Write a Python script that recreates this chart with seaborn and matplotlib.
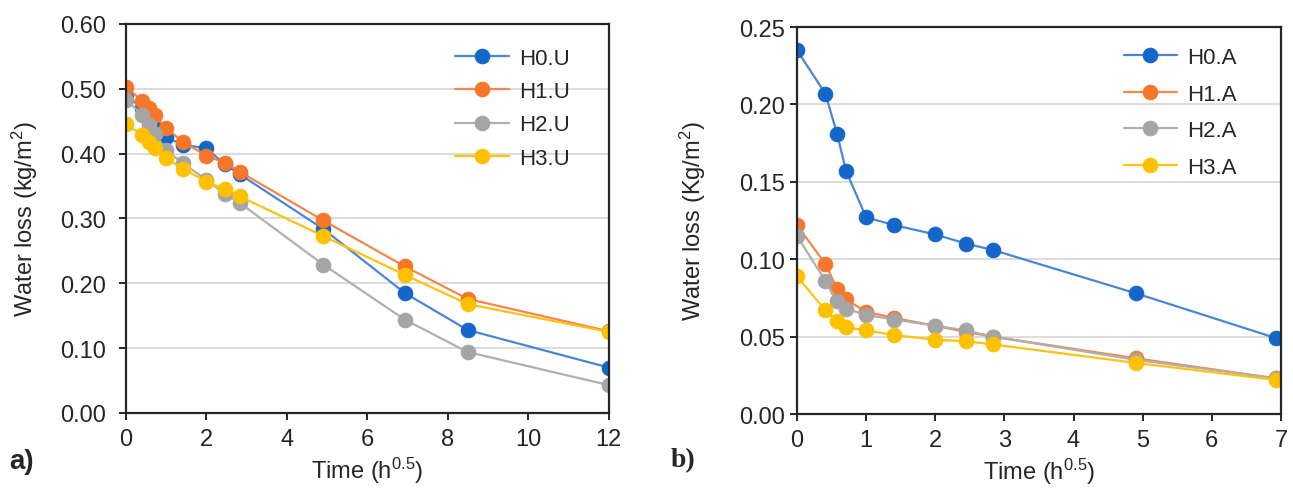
import numpy as np
import pandas as pd
import matplotlib
matplotlib.use("Agg")
import matplotlib.pyplot as plt
import seaborn as sns

sns.set_theme(style="white")
plt.rcParams["font.family"] = ["Liberation Sans", "DejaVu Sans"]
plt.rcParams["mathtext.fontset"] = "custom"
plt.rcParams["mathtext.rm"] = "Liberation Sans"
plt.rcParams["mathtext.it"] = "Liberation Sans"

# time axis, h^0.5
time_u = [0, 0.41, 0.58, 0.71, 1.0, 1.41, 2.0, 2.45, 2.83, 4.90, 6.93, 8.49, 12.0]
time_a = [0, 0.41, 0.58, 0.71, 1.0, 1.41, 2.0, 2.45, 2.83, 4.90, 6.93]

# panel a) water loss (kg/m2)
h0_u = [0.490, 0.470, 0.455, 0.440, 0.425, 0.414, 0.408, 0.384, 0.368, 0.284, 0.185, 0.128, 0.070]
h1_u = [0.503, 0.481, 0.470, 0.459, 0.440, 0.418, 0.397, 0.386, 0.372, 0.297, 0.226, 0.176, 0.126]
h2_u = [0.483, 0.460, 0.444, 0.431, 0.406, 0.385, 0.360, 0.338, 0.324, 0.229, 0.144, 0.094, 0.043]
h3_u = [0.445, 0.429, 0.418, 0.408, 0.393, 0.377, 0.357, 0.345, 0.334, 0.273, 0.213, 0.168, 0.125]

# panel b) water loss (Kg/m2)
h0_a = [0.235, 0.207, 0.181, 0.157, 0.127, 0.122, 0.116, 0.110, 0.106, 0.078, 0.049]
h1_a = [0.122, 0.097, 0.081, 0.074, 0.066, 0.062, 0.057, 0.053, 0.050, 0.036, 0.023]
h2_a = [0.115, 0.086, 0.073, 0.068, 0.064, 0.061, 0.057, 0.054, 0.050, 0.035, 0.023]
h3_a = [0.089, 0.067, 0.060, 0.056, 0.054, 0.051, 0.048, 0.047, 0.045, 0.033, 0.022]

labels_u = ["H0.U", "H1.U", "H2.U", "H3.U"]
labels_a = ["H0.A", "H1.A", "H2.A", "H3.A"]
line_cols = ["#4A86D8", "#F4874B", "#B0B0B0", "#FFC20E"]
mark_cols = ["#1466C8", "#F7772A", "#A5A5A5", "#FFC000"]

ink = "#262626"
fs = 17

fig = plt.figure(figsize=(12.93, 4.89), dpi=100)
ax_a = fig.add_axes([0.0974, 0.1534, 0.3735, 0.7955])
ax_b = fig.add_axes([0.6164, 0.1513, 0.3743, 0.7914])


def draw(ax, t, series, labels, anchor, ypad, lspace):
    for vals, lab, lc, mc in zip(series, labels, line_cols, mark_cols):
        df = pd.DataFrame({"t": t, "w": vals})
        sns.lineplot(data=df, x="t", y="w", ax=ax, color=lc, linewidth=1.6,
                     marker="o", markersize=10.5, markerfacecolor=mc,
                     markeredgecolor=mc, label=lab)
    ax.grid(axis="y", color="#d9d9d9", linewidth=1.3)
    ax.set_axisbelow(True)
    for s in ax.spines.values():
        s.set_color(ink)
        s.set_linewidth(1.6)
    ax.tick_params(axis="both", direction="out", length=5, width=1.4,
                   color=ink, labelsize=fs, labelcolor=ink, pad=6)
    ax.tick_params(axis="y", left=True, pad=ypad)
    ax.tick_params(axis="x", bottom=True)
    ax.set_xlabel("Time (h$^{0.5}$)", fontsize=fs, color=ink, labelpad=3)
    ax.legend(loc="upper right", frameon=False, fontsize=16,
              handlelength=2.4, labelspacing=lspace, handletextpad=0.45,
              bbox_to_anchor=anchor)


draw(ax_a, time_u, [h0_u, h1_u, h2_u, h3_u], labels_u, (0.96, 0.99), 9, 0.55)
ax_a.set_xlim(0, 12)
ax_a.set_ylim(0, 0.6)
ax_a.set_xticks(np.arange(0, 13, 2))
ax_a.set_yticks(np.arange(0, 0.61, 0.1))
ax_a.set_yticklabels([f"{v:.2f}" for v in np.arange(0, 0.61, 0.1)])
ax_a.set_ylabel("Water loss (kg/m$^2$)", fontsize=fs, color=ink, labelpad=14.5)

draw(ax_b, time_a, [h0_a, h1_a, h2_a, h3_a], labels_a, (0.95, 1.0), 4, 0.7)
ax_b.set_xlim(0, 7)
ax_b.set_ylim(0, 0.25)
ax_b.set_xticks(np.arange(0, 8, 1))
ax_b.set_yticks(np.arange(0, 0.26, 0.05))
ax_b.set_yticklabels([f"{v:.2f}" for v in np.arange(0, 0.26, 0.05)])
ax_b.set_ylabel("Water loss (Kg/m$^2$)", fontsize=fs, color=ink, labelpad=22)

fig.text(0.007, 0.04, "a)", fontsize=20, fontweight="bold", color=ink)
fig.text(0.519, 0.045, "b)", fontsize=20, fontweight="bold", color=ink,
         family=["Liberation Serif", "DejaVu Serif"])

fig.savefig("out.png", dpi=100)
